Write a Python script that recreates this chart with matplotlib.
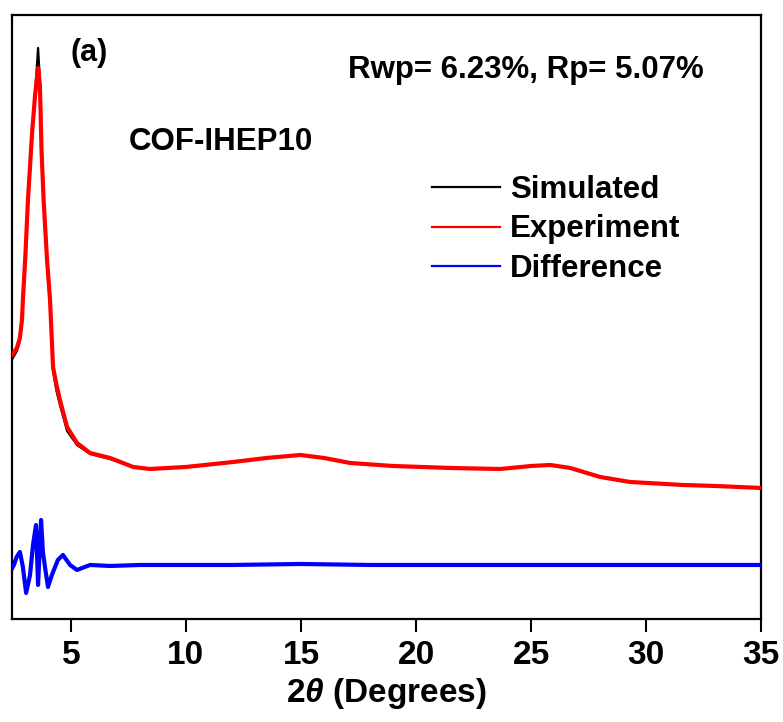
import matplotlib
matplotlib.use("Agg")
import matplotlib.pyplot as plt

plt.rcParams["font.family"] = ["Liberation Sans", "DejaVu Sans"]
plt.rcParams["font.weight"] = "bold"
plt.rcParams["mathtext.fontset"] = "custom"
plt.rcParams["mathtext.it"] = "Liberation Sans:italic:bold"
plt.rcParams["mathtext.rm"] = "Liberation Sans:bold"

# Experimental PXRD pattern (2-theta in degrees, intensity in a.u.)
exp_2theta = [2.46, 2.66, 2.79, 2.88, 2.92, 3.03, 3.14, 3.32, 3.45, 3.58,
              3.66, 3.73, 3.82, 3.97, 4.10, 4.23, 4.38, 4.53, 4.84, 5.27,
              5.84, 6.71, 7.71, 8.44, 10.0, 12.06, 13.5, 14.97, 16.0, 17.14,
              19.0, 21.5, 23.66, 25.0, 25.83, 26.7, 28.0, 29.3, 31.6, 33.0,
              35.0]
exp_int = [262, 269, 279, 297, 317, 362, 417, 484, 522, 549,
           532, 467, 417, 357, 317, 250, 232, 217, 190, 174,
           164, 159, 150, 148, 150, 155, 159, 162, 159, 154,
           151, 149, 148, 151, 152, 149, 140, 135, 132, 131,
           129]

# Simulated pattern from the structural model
sim_2theta = [2.46, 2.66, 2.79, 2.88, 2.92, 3.03, 3.14, 3.32, 3.45, 3.52,
              3.58, 3.64, 3.73, 3.82, 3.97, 4.10, 4.23, 4.38, 4.53, 4.84,
              5.27, 5.84, 6.71, 7.71, 8.44, 10.0, 12.06, 13.5, 14.97, 16.0,
              17.14, 19.0, 21.5, 23.66, 25.0, 25.83, 26.7, 28.0, 29.3, 31.6,
              33.0, 35.0]
sim_int = [258, 266, 276, 295, 315, 358, 412, 480, 525, 548,
           569, 545, 470, 414, 352, 312, 246, 226, 212, 186,
           172, 163, 158, 150, 148, 150, 155, 159, 162, 159,
           154, 151, 149, 148, 151, 152, 149, 140, 135, 132,
           131, 129]

# Difference curve (experiment - simulated), drawn with a vertical offset
diff_2theta = [2.46, 2.53, 2.65, 2.79, 2.92, 3.06, 3.23, 3.36, 3.49, 3.58,
               3.71, 3.79, 3.90, 4.01, 4.18, 4.44, 4.66, 4.97, 5.27, 5.84,
               6.71, 8.0, 10.0, 12.0, 15.0, 18.0, 21.5, 25.0, 28.0, 31.0,
               35.0]
diff_val = [-3, 0, 8, 13, -2, -28, -10, 20, 40, -20,
            45, 13, -5, -22, -10, 5, 10, 0, -5, 0,
            -1, 0, 0, 0, 1, 0, 0, 0, 0, 0,
            0]
diff_offset = 52

x_ticks = [5, 10, 15, 20, 25, 30, 35]

fig = plt.figure(figsize=(7.83, 7.22), dpi=100)
ax = fig.add_axes([0.0157, 0.1427, 0.9566, 0.8365])

ax.plot(sim_2theta, sim_int, color="black", lw=1.6, label="Simulated", zorder=2)
ax.plot(exp_2theta, exp_int, color="#ff0000", lw=3.0, label="Experiment", zorder=3)
ax.plot(diff_2theta, [v + diff_offset for v in diff_val], color="#0000ff",
        lw=3.0, label="Difference", zorder=3)

ax.set_xlim(2.46, 35)
ax.set_ylim(-2, 602)
ax.set_xticks(x_ticks)
ax.set_xticklabels([str(t) for t in x_ticks])
ax.set_yticks([])
ax.tick_params(axis="x", direction="out", length=9.5, width=1.5, pad=6,
               labelsize=24)
for lab in ax.get_xticklabels():
    lab.set_fontweight("bold")
for sp in ax.spines.values():
    sp.set_linewidth(1.6)

ax.set_xlabel(r"2$\theta$ (Degrees)", fontsize=24, fontweight="bold", labelpad=3)

ax.text(0.1025, 0.937, "(a)", transform=ax.transAxes, ha="center",
        va="center", fontsize=22, fontweight="bold")
ax.text(0.686, 0.909, "Rwp= 6.23%, Rp= 5.07%", transform=ax.transAxes,
        ha="center", va="center", fontsize=22.5, fontweight="bold")
ax.text(0.279, 0.790, "COF-IHEP10", transform=ax.transAxes, ha="center",
        va="center", fontsize=22.5, fontweight="bold")

leg = ax.legend(loc="upper left", bbox_to_anchor=(0.560, 0.735),
                frameon=False, fontsize=22.5, handlelength=2.2,
                handletextpad=0.3, labelspacing=0.30, borderpad=0,
                borderaxespad=0)
for t in leg.get_texts():
    t.set_fontweight("bold")
for h in leg.get_lines():
    h.set_linewidth(1.6)

fig.savefig("out.png", dpi=100)
